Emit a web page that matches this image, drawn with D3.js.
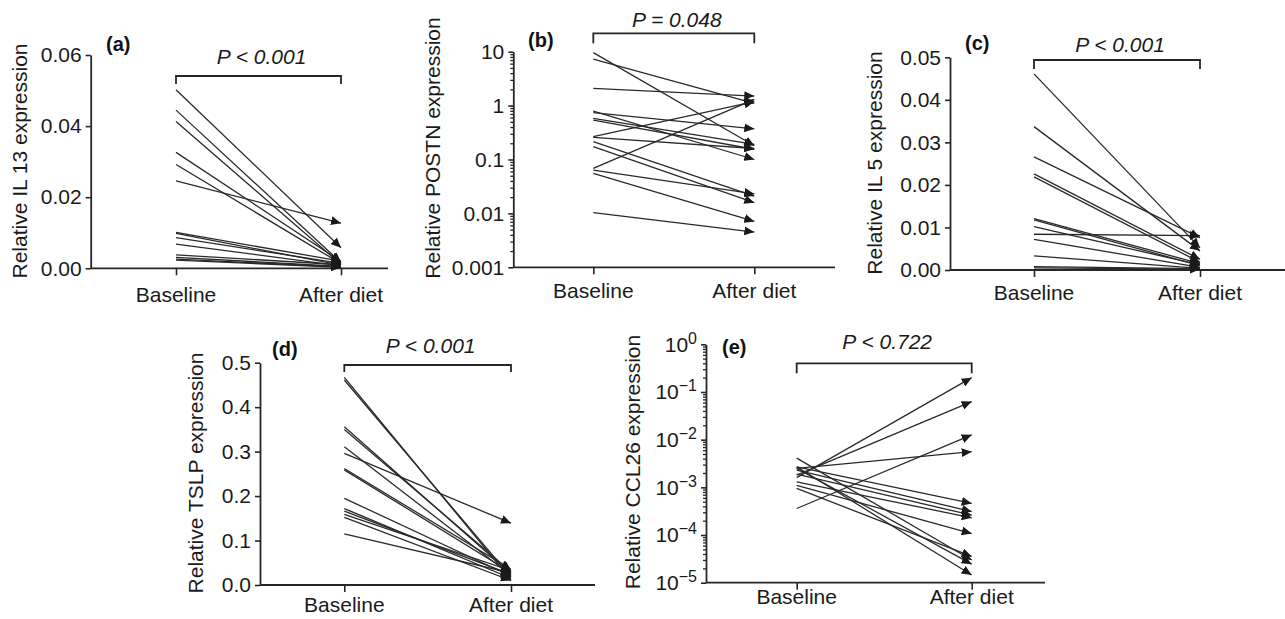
<!DOCTYPE html>
<html>
<head>
<meta charset="utf-8">
<script src="https://d3js.org/d3.v7.min.js"></script>
<style>
  body { margin: 0; background: #fff; }
  svg { font-family: "Liberation Sans", Arial, sans-serif; }
</style>
</head>
<body>
<svg width="1285" height="619"></svg>
<script>
  // categories
  var cats = ["Baseline", "After diet"];

  // (a) IL 13
  var il13Base  = [0.0502, 0.0445, 0.0413, 0.0326, 0.0292, 0.0246, 0.0101, 0.0098, 0.0086, 0.0068, 0.0038, 0.0031, 0.0026, 0.0023];
  var il13After = [0.0058, 0.0016, 0.0011, 0.0019, 0.0013, 0.0127, 0.0020, 0.0009, 0.0014, 0.0007, 0.0010, 0.0005, 0.0004, 0.0003];

  // (b) POSTN
  var postnBase  = [9.6, 7.3, 2.09, 0.79, 0.74, 0.58, 0.54, 0.265, 0.257, 0.214, 0.173, 0.0686, 0.0638, 0.0553, 0.0103];
  var postnAfter = [0.18, 1.10, 1.50, 0.10, 0.37, 0.19, 0.155, 1.18, 0.16, 0.021, 0.0158, 1.30, 0.023, 0.0071, 0.0045];

  // (c) IL 5
  var il5Base  = [0.0461, 0.0337, 0.0266, 0.0226, 0.0219, 0.0121, 0.0118, 0.0102, 0.0084, 0.0072, 0.0033, 0.0008, 0.0005];
  var il5After = [0.0052, 0.0045, 0.0076, 0.0025, 0.0018, 0.0015, 0.0010, 0.0012, 0.0081, 0.0006, 0.0004, 0.0003, 0.0002];

  // (d) TSLP
  var tslpBase  = [0.467, 0.461, 0.356, 0.350, 0.311, 0.296, 0.262, 0.259, 0.195, 0.172, 0.166, 0.159, 0.152, 0.115];
  var tslpAfter = [0.012, 0.018, 0.025, 0.030, 0.022, 0.139, 0.035, 0.028, 0.020, 0.015, 0.024, 0.032, 0.010, 0.027];

  // (e) CCL26
  var ccl26Base  = [0.0016, 0.0018, 0.00036, 0.0025, 0.0027, 0.0023, 0.0019, 0.0013, 0.0011, 0.00095, 0.0041, 0.0025, 0.0027];
  var ccl26After = [0.20, 0.063, 0.0126, 0.0056, 0.00046, 0.00031, 0.00026, 0.00023, 0.000107, 0.0000355, 0.000030, 0.0000245, 0.0000145];

  // tick labels
  var ticksA = [0, 0.02, 0.04, 0.06];
  var ticksB = [0.001, 0.01, 0.1, 1, 10];
  var ticksC = [0, 0.01, 0.02, 0.03, 0.04, 0.05];
  var ticksD = [0, 0.1, 0.2, 0.3, 0.4, 0.5];
  var ticksE = [1e-5, 1e-4, 1e-3, 1e-2, 1e-1, 1];
  var expE = ["\u22125", "\u22124", "\u22123", "\u22122", "\u22121", "0"];

  var svg = d3.select("svg");
  var ink = "#262626";

  svg.append("defs").append("marker")
    .attr("id", "arr")
    .attr("markerUnits", "userSpaceOnUse")
    .attr("markerWidth", 11).attr("markerHeight", 9)
    .attr("refX", 10).attr("refY", 4.5)
    .attr("orient", "auto")
    .append("path")
    .attr("d", "M0,0 L10,4.5 L0,9 Z")
    .attr("fill", "#1a1a1a");

  var panels = [
    {tag: "(a)", title: "Relative IL 13 expression", p: "P < 0.001", base: il13Base, after: il13After,
     log: false, dom: [0, 0.06], ticks: ticksA, fmt: d3.format(".2f"),
     ax: 90.7, top: 55, bot: 268.3, bx: 176, fx: 341, end: 388,
     tx: 27, ty: 161, lab: [106, 51], br: 76, leg: 8, pb: 64, xl: 302},
    {tag: "(b)", title: "Relative POSTN expression", p: "P = 0.048", base: postnBase, after: postnAfter,
     log: true, dom: [0.001, 10], ticks: ticksB, fmt: function(d) { return String(d); },
     ax: 513.3, top: 51.7, bot: 267.3, bx: 593.3, fx: 754.3, end: 835,
     tx: 440, ty: 148, lab: [528, 47], br: 33.3, leg: 10, pb: 27, xl: 298},
    {tag: "(c)", title: "Relative IL 5 expression", p: "P < 0.001", base: il5Base, after: il5After,
     log: false, dom: [0, 0.05], ticks: ticksC, fmt: d3.format(".2f"),
     ax: 950, top: 57.3, bot: 270, bx: 1034, fx: 1200, end: 1285,
     tx: 882, ty: 163, lab: [965, 50], br: 60, leg: 9, pb: 52, xl: 300},
    {tag: "(d)", title: "Relative TSLP expression", p: "P < 0.001", base: tslpBase, after: tslpAfter,
     log: false, dom: [0, 0.5], ticks: ticksD, fmt: d3.format(".1f"),
     ax: 260, top: 362.7, bot: 585, bx: 344.3, fx: 511, end: 595,
     tx: 203, ty: 473, lab: [272, 356], br: 365, leg: 7, pb: 353, xl: 612},
    {tag: "(e)", title: "Relative CCL26 expression", p: "P < 0.722", base: ccl26Base, after: ccl26After,
     log: true, dom: [1e-5, 1], ticks: ticksE, fmt: null,
     ax: 706, top: 344.3, bot: 582.7, bx: 796.7, fx: 971.7, end: 1045,
     tx: 640, ty: 462, lab: [722, 354], br: 363.3, leg: 10, pb: 349, xl: 604}
  ];

  panels.forEach(function(c) {
    var g = svg.append("g");
    var y = (c.log ? d3.scaleLog() : d3.scaleLinear()).domain(c.dom).range([c.bot, c.top]);
    var x = d3.scalePoint().domain(cats).range([c.bx, c.fx]);

    // minor ticks on log axes
    if (c.log) {
      var minors = [];
      var e0 = Math.round(Math.log10(c.dom[0])), e1 = Math.round(Math.log10(c.dom[1]));
      for (var e = e0; e < e1; e++) {
        for (var k = 2; k <= 9; k++) minors.push(k * Math.pow(10, e));
      }
      var mg = g.append("g").attr("transform", "translate(" + c.ax + ",0)")
        .call(d3.axisLeft(y).tickValues(minors).tickSize(3).tickFormat(""));
      mg.select(".domain").remove();
      mg.selectAll("line").attr("stroke", ink).attr("stroke-width", 1.3);
    }

    var yg = g.append("g").attr("transform", "translate(" + c.ax + ",0)")
      .call(d3.axisLeft(y).tickValues(c.ticks).tickSize(5).tickSizeOuter(0).tickPadding(4)
        .tickFormat(c.fmt ? c.fmt : function() { return ""; }));
    yg.select(".domain").attr("stroke", ink).attr("stroke-width", 1.8);
    yg.selectAll(".tick line").attr("stroke", ink).attr("stroke-width", 1.6);
    yg.selectAll("text").attr("font-size", 21).attr("fill", "#1a1a1a").attr("font-family", "Liberation Sans, Arial, sans-serif");

    if (!c.fmt) {
      yg.selectAll(".tick text").each(function(d, i) {
        var t = d3.select(this).text(null);
        t.append("tspan").text("10");
        t.append("tspan").attr("dy", -8).attr("font-size", 16).text(expE[i]);
      });
    }

    // x axis
    g.append("line")
      .attr("x1", c.ax).attr("x2", c.end).attr("y1", c.bot).attr("y2", c.bot)
      .attr("stroke", ink).attr("stroke-width", 1.8);
    var xg = g.append("g").attr("transform", "translate(0," + c.bot + ")")
      .call(d3.axisBottom(x).tickSize(7).tickSizeOuter(0));
    xg.select(".domain").remove();
    xg.selectAll(".tick line").attr("stroke", ink).attr("stroke-width", 1.6);
    xg.selectAll(".tick text").remove();
    g.selectAll(".xlab").data(cats).enter().append("text")
      .attr("x", function(d) { return x(d); })
      .attr("y", c.xl)
      .attr("text-anchor", "middle")
      .attr("font-size", 21).attr("fill", "#1a1a1a")
      .text(function(d) { return d; });

    // y title
    g.append("text")
      .attr("transform", "translate(" + c.tx + "," + c.ty + ") rotate(-90)")
      .attr("text-anchor", "middle")
      .attr("font-size", 21).attr("fill", "#1a1a1a")
      .text(c.title);

    // panel tag
    g.append("text")
      .attr("x", c.lab[0]).attr("y", c.lab[1])
      .attr("font-size", 20).attr("font-weight", "bold").attr("fill", "#111")
      .text(c.tag);

    // bracket and p value
    var x0 = x(cats[0]), x1 = x(cats[1]);
    g.append("path")
      .attr("d", "M" + x0 + "," + (c.br + c.leg) + "V" + c.br + "H" + x1 + "V" + (c.br + c.leg))
      .attr("fill", "none").attr("stroke", ink).attr("stroke-width", 1.8);
    g.append("text")
      .attr("x", (x0 + x1) / 2 + 3).attr("y", c.pb)
      .attr("text-anchor", "middle")
      .attr("font-size", 21).attr("font-style", "italic").attr("fill", "#1a1a1a")
      .text(c.p);

    // paired lines
    var pairs = c.base.map(function(b, i) { return [b, c.after[i]]; });
    g.append("g").selectAll("line").data(pairs).enter().append("line")
      .attr("x1", x(cats[0]))
      .attr("y1", function(d) { return y(d[0]); })
      .attr("x2", x(cats[1]))
      .attr("y2", function(d) { return y(d[1]); })
      .attr("stroke", "#2a2a2a").attr("stroke-width", 1.3)
      .attr("marker-end", "url(#arr)");
  });
</script>
</body>
</html>
